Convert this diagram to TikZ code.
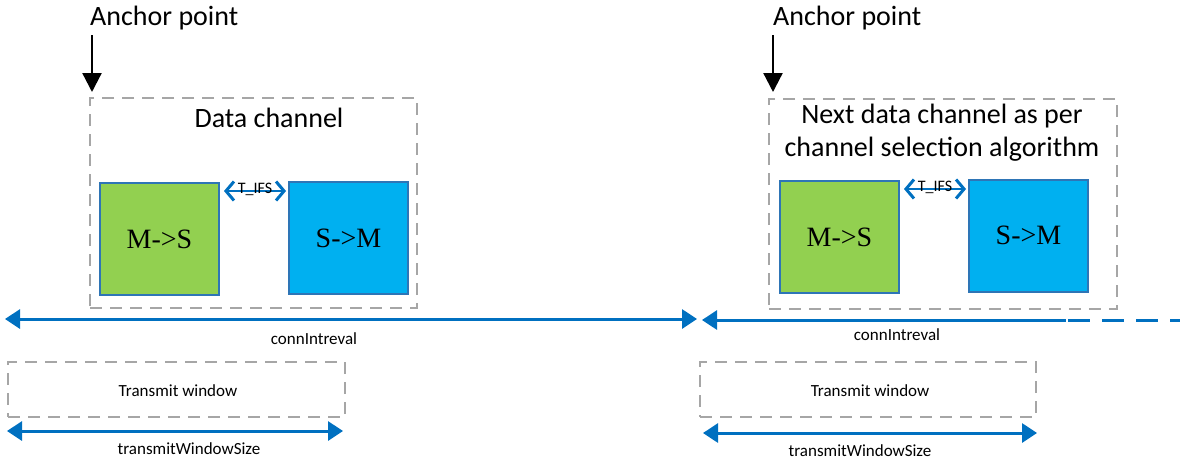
\documentclass[tikz,border=0pt]{standalone}
\usepackage{fontspec}
\setmainfont{Carlito}
\newfontfamily\serifbox{Liberation Serif}
\usetikzlibrary{arrows.meta}
\definecolor{dgray}{HTML}{A6A6A6}
\definecolor{lblue}{HTML}{0070C0}
\definecolor{bord}{HTML}{2E75B6}
\definecolor{mgreen}{HTML}{92D050}
\definecolor{sblue}{HTML}{00B0F0}
\tikzset{
  dbox/.style={draw=dgray, line width=2.3pt, dash pattern=on 12pt off 8pt, minimum width=#1, inner sep=0pt},
  msbox/.style={draw=bord, line width=2pt, fill=mgreen, minimum width=119pt, minimum height=112pt, inner sep=0pt, font=\serifbox\fontsize{28}{30}\selectfont},
  smbox/.style={draw=bord, line width=2pt, fill=sblue, minimum width=119pt, minimum height=112pt, inner sep=0pt, font=\serifbox\fontsize{28}{30}\selectfont},
  bigtxt/.style={font=\fontsize{28}{33}\selectfont, align=center, inner sep=0pt},
  smalltxt/.style={font=\fontsize{17}{19}\selectfont, inner sep=0pt},
  ifstxt/.style={font=\fontsize{16}{18}\selectfont, inner sep=0pt},
  anchorarrow/.style={-{Triangle[length=19pt,width=19pt]}, line width=2.3pt, black},
  intarrow/.style={{Triangle[length=15pt,width=19pt]}-{Triangle[length=15pt,width=19pt]}, line width=3pt, lblue},
  ifsarrow/.style={{Straight Barb[length=8pt,width=19pt,line width=3pt]}-{Straight Barb[length=8pt,width=19pt,line width=3pt]}, line width=1.5pt, lblue},
}
\begin{document}
\begin{tikzpicture}[x=1pt,y=-1pt]
\useasboundingbox (0,0) rectangle (1180,461);
% ---------- left ----------
\node[bigtxt, anchor=west] (ancL) at (90,18) {Anchor point};
\coordinate (aL1) at (92,35);
\coordinate (aL2) at (92,92);
\draw[anchorarrow] (aL1) -- (aL2);
\node[dbox=327pt, minimum height=210pt] (dcL) at (253.5,203) {};
\node[bigtxt] (dctxt) at (269,118) {Data channel};
\node[msbox] (msL) at (159.5,239) {M->S};
\node[smbox] (smL) at (348.5,238) {S->M};
\coordinate (tiL1) at (224,191);
\coordinate (tiL2) at (286,191);
\draw[ifsarrow] (tiL1) -- (tiL2);
\node[ifstxt] (tifsL) at (255,189) {T\_IFS};
% connInterval 1
\coordinate (c1a) at (5,319);
\coordinate (c1b) at (697,319);
\draw[intarrow] (c1a) -- (c1b);
\node[smalltxt] (c1t) at (314,339) {connIntreval};
% transmit window left
\node[dbox=337pt, minimum height=55pt] (twL) at (176.5,389.5) {};
\node[smalltxt] (twLt) at (178,391) {Transmit window};
\coordinate (tsL1) at (7,431);
\coordinate (tsL2) at (343,431);
\draw[intarrow] (tsL1) -- (tsL2);
\node[smalltxt] (tsLt) at (189,449) {transmitWindowSize};
% ---------- right ----------
\node[bigtxt, anchor=west] (ancR) at (773,18) {Anchor point};
\coordinate (aR1) at (773,35);
\coordinate (aR2) at (773,92);
\draw[anchorarrow] (aR1) -- (aR2);
\node[dbox=348pt, minimum height=210pt] (dcR) at (943,204) {};
\node[bigtxt] (dcRt) at (942,133) {Next data channel as per\\channel selection algorithm};
\node[msbox] (msR) at (839.5,237) {M->S};
\node[smbox] (smR) at (1028.5,235.5) {S->M};
\coordinate (tiR1) at (904,189);
\coordinate (tiR2) at (966,189);
\draw[ifsarrow] (tiR1) -- (tiR2);
\node[ifstxt] (tifsR) at (935,187) {T\_IFS};
% connInterval 2
\coordinate (c2a) at (702,320);
\coordinate (c2m) at (1066,320);
\coordinate (c2b) at (1180,320);
\draw[{Triangle[length=15pt,width=19pt]}-, line width=3pt, lblue] (c2a) -- (c2m);
\draw[line width=3pt, lblue, dash pattern=on 22pt off 12pt, dash phase=32pt] (c2m) -- (c2b);
\node[smalltxt] (c2t) at (897,335) {connIntreval};
% transmit window right
\node[dbox=336pt, minimum height=55pt] (twR) at (868,389.5) {};
\node[smalltxt] (twRt) at (870,391) {Transmit window};
\coordinate (tsR1) at (703,433);
\coordinate (tsR2) at (1037,433);
\draw[intarrow] (tsR1) -- (tsR2);
\node[smalltxt] (tsRt) at (860,451) {transmitWindowSize};
\end{tikzpicture}
\end{document}
